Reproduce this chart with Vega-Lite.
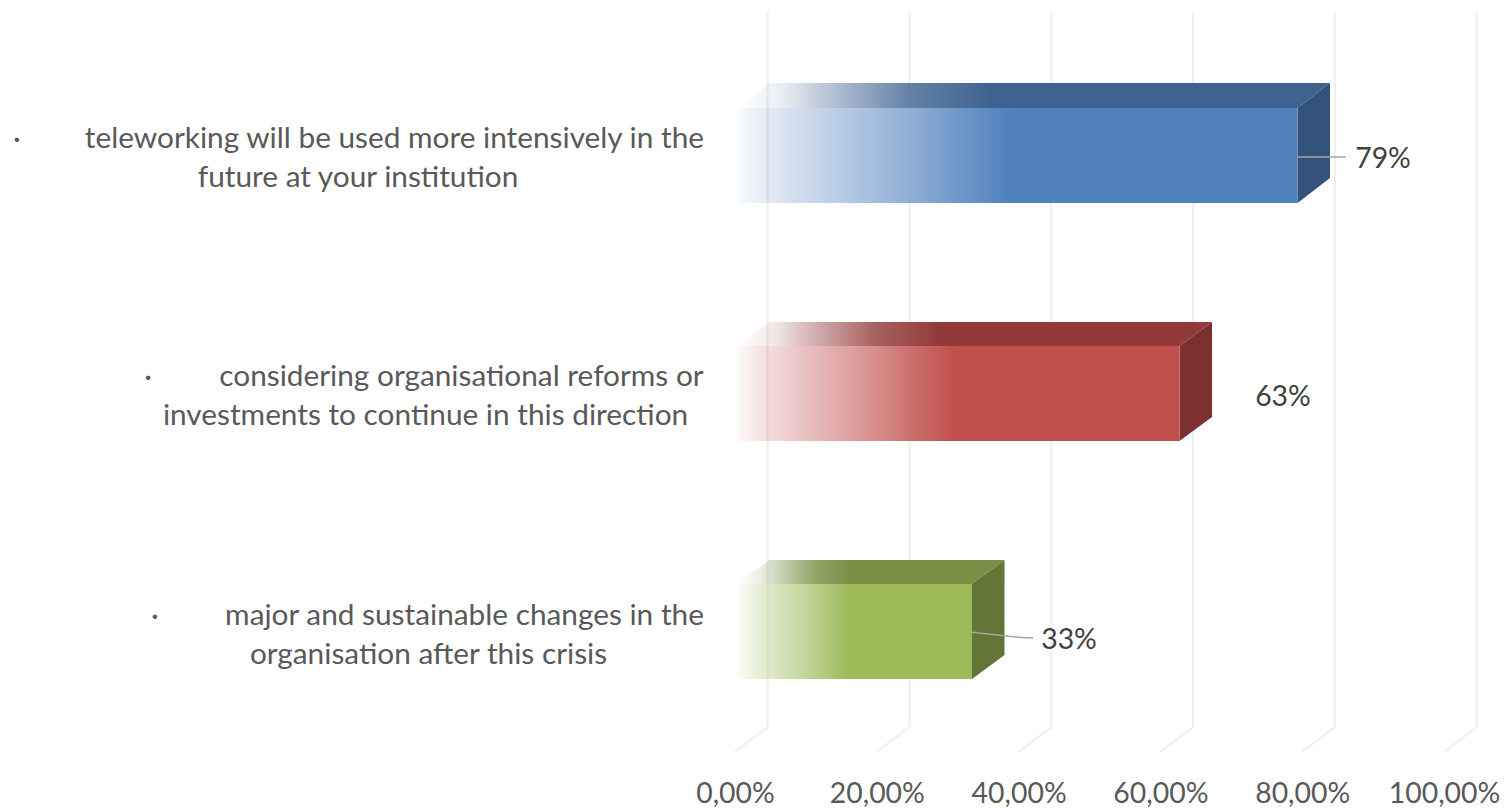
{
"$schema":"https://vega.github.io/schema/vega-lite/v6.json",
"width":1508,"height":780,"padding":{"left":0,"right":0,"top":0,"bottom":28},"autosize":{"type":"none"},
"background":"#ffffff",
"config":{"view":{"stroke":null},"locale":{"number":{"decimal":",","thousands":".","grouping":[3],"currency":["","€"]}}},
"datasets":{
"grid":[
{"x":0.0461,"x2":0.0461,"y":98.46,"y2":6.79},{"x":0.0461,"x2":0,"y":6.79,"y2":3.59},
{"x":0.2461,"x2":0.2461,"y":98.46,"y2":6.79},{"x":0.2461,"x2":0.2,"y":6.79,"y2":3.59},
{"x":0.4461,"x2":0.4461,"y":98.46,"y2":6.79},{"x":0.4461,"x2":0.4,"y":6.79,"y2":3.59},
{"x":0.6461,"x2":0.6461,"y":98.46,"y2":6.79},{"x":0.6461,"x2":0.6,"y":6.79,"y2":3.59},
{"x":0.8461,"x2":0.8461,"y":98.46,"y2":6.79},{"x":0.8461,"x2":0.8,"y":6.79,"y2":3.59},
{"x":1.0461,"x2":1.0461,"y":98.46,"y2":6.79},{"x":1.0461,"x2":1,"y":6.79,"y2":3.59}
],
"faces":[
{"series":"blue","face":"front","x":0.0028,"x2":0.7934,"y":73.97,"y2":86.15},
{"series":"blue","face":"top","x":0.0028,"x2":0.7934,"y":86.15},
{"series":"blue","face":"top","x":0.0486,"x2":0.8392,"y":89.36},
{"series":"blue","face":"side","x":0.7934,"y":73.97,"y2":86.15},
{"series":"blue","face":"side","x":0.8392,"y":77.18,"y2":89.36},
{"series":"red","face":"front","x":0.0028,"x2":0.627,"y":43.46,"y2":55.64},
{"series":"red","face":"top","x":0.0028,"x2":0.627,"y":55.64},
{"series":"red","face":"top","x":0.0486,"x2":0.6728,"y":58.72},
{"series":"red","face":"side","x":0.627,"y":43.46,"y2":55.64},
{"series":"red","face":"side","x":0.6728,"y":46.54,"y2":58.72},
{"series":"green","face":"front","x":0.0028,"x2":0.3343,"y":12.95,"y2":25.13},
{"series":"green","face":"top","x":0.0028,"x2":0.3343,"y":25.13},
{"series":"green","face":"top","x":0.0486,"x2":0.3801,"y":28.21},
{"series":"green","face":"side","x":0.3343,"y":12.95,"y2":25.13},
{"series":"green","face":"side","x":0.3801,"y":16.03,"y2":28.21}
],
"leaders":[
{"x":0.7934,"x2":0.8618,"y":79.87,"y2":79.87},
{"x":0.3343,"x2":0.4044,"y":18.94,"y2":18.26},
{"x":0.4044,"x2":0.4203,"y":18.26,"y2":18.2}
],
"values":[
{"x":0.914,"y":79.6,"label":"79%"},
{"x":0.7729,"y":49.1,"label":"63%"},
{"x":0.4711,"y":18.0,"label":"33%"}
],
"labels":[
{"x":-1.0127,"y":82.2,"label":"·"},
{"x":-0.4803,"y":82.2,"label":"teleworking will be used more intensively in the"},
{"x":-0.5317,"y":77.2,"label":"future at your institution"},
{"x":-0.8279,"y":51.68,"label":"·"},
{"x":-0.3858,"y":51.68,"label":"considering organisational reforms or"},
{"x":-0.4365,"y":46.68,"label":"investments to continue in this direction"},
{"x":-0.8181,"y":21.04,"label":"·"},
{"x":-0.3815,"y":21.04,"label":"major and sustainable changes in the"},
{"x":-0.4323,"y":16.04,"label":"organisation after this crisis"}
]
},
"encoding":{
"x":{"field":"x","type":"quantitative","scale":{"domain":[-1.03667,1.09027],"nice":false,"zero":false},
"axis":{"values":[0,0.2,0.4,0.6,0.8,1],"format":".2%","title":null,"grid":false,"domain":false,"ticks":false,"tickSize":0,"labelPadding":0,"labelFont":"Lato","labelFontSize":28.4,"labelColor":"#595959","labelOverlap":false,"labelFlush":false}},
"y":{"field":"y","type":"quantitative","scale":{"domain":[0,100],"nice":false,"zero":false},"axis":null}
},
"layer":[
{"data":{"name":"grid"},"mark":{"type":"rule","color":"#eeeeee","strokeWidth":2},"encoding":{"x2":{"field":"x2"},"y2":{"field":"y2"}}},

{"data":{"name":"faces"},"transform":[{"filter":"datum.series=='blue' && datum.face=='top'"}],
"mark":{"type":"area","orient":"horizontal","color":{"gradient":"linear","x1":0,"y1":0,"x2":1,"y2":0,"stops":[{"offset":0,"color":"rgba(62,98,144,0)"},{"offset":0.08,"color":"rgba(62,98,144,0.12)"},{"offset":0.14,"color":"rgba(62,98,144,0.33)"},{"offset":0.29,"color":"rgba(62,98,144,0.8)"},{"offset":0.43,"color":"rgba(62,98,144,1)"},{"offset":1,"color":"rgba(62,98,144,1)"}]}},"encoding":{"x2":{"field":"x2"}}},
{"data":{"name":"faces"},"transform":[{"filter":"datum.series=='blue' && datum.face=='side'"}],
"mark":{"type":"area","orient":"vertical","color":"#32527a"},"encoding":{"y2":{"field":"y2"}}},
{"data":{"name":"faces"},"transform":[{"filter":"datum.series=='blue' && datum.face=='front'"}],
"mark":{"type":"rect","color":{"gradient":"linear","x1":0,"y1":0,"x2":1,"y2":0,"stops":[{"offset":0,"color":"rgba(79,129,189,0.03)"},{"offset":0.055,"color":"rgba(79,129,189,0.16)"},{"offset":0.148,"color":"rgba(79,129,189,0.34)"},{"offset":0.31,"color":"rgba(79,129,189,0.64)"},{"offset":0.385,"color":"rgba(79,129,189,0.8)"},{"offset":0.49,"color":"rgba(79,129,189,1)"},{"offset":1,"color":"rgba(79,129,189,1)"}]}},"encoding":{"x2":{"field":"x2"},"y2":{"field":"y2"}}},

{"data":{"name":"faces"},"transform":[{"filter":"datum.series=='red' && datum.face=='top'"}],
"mark":{"type":"area","orient":"horizontal","color":{"gradient":"linear","x1":0,"y1":0,"x2":1,"y2":0,"stops":[{"offset":0,"color":"rgba(145,58,56,0)"},{"offset":0.08,"color":"rgba(145,58,56,0.12)"},{"offset":0.14,"color":"rgba(145,58,56,0.33)"},{"offset":0.29,"color":"rgba(145,58,56,0.8)"},{"offset":0.43,"color":"rgba(145,58,56,1)"},{"offset":1,"color":"rgba(145,58,56,1)"}]}},"encoding":{"x2":{"field":"x2"}}},
{"data":{"name":"faces"},"transform":[{"filter":"datum.series=='red' && datum.face=='side'"}],
"mark":{"type":"area","orient":"vertical","color":"#7b312f"},"encoding":{"y2":{"field":"y2"}}},
{"data":{"name":"faces"},"transform":[{"filter":"datum.series=='red' && datum.face=='front'"}],
"mark":{"type":"rect","color":{"gradient":"linear","x1":0,"y1":0,"x2":1,"y2":0,"stops":[{"offset":0,"color":"rgba(192,80,77,0.03)"},{"offset":0.055,"color":"rgba(192,80,77,0.16)"},{"offset":0.148,"color":"rgba(192,80,77,0.34)"},{"offset":0.31,"color":"rgba(192,80,77,0.64)"},{"offset":0.385,"color":"rgba(192,80,77,0.8)"},{"offset":0.49,"color":"rgba(192,80,77,1)"},{"offset":1,"color":"rgba(192,80,77,1)"}]}},"encoding":{"x2":{"field":"x2"},"y2":{"field":"y2"}}},

{"data":{"name":"faces"},"transform":[{"filter":"datum.series=='green' && datum.face=='top'"}],
"mark":{"type":"area","orient":"horizontal","color":{"gradient":"linear","x1":0,"y1":0,"x2":1,"y2":0,"stops":[{"offset":0,"color":"rgba(120,143,69,0)"},{"offset":0.08,"color":"rgba(120,143,69,0.12)"},{"offset":0.14,"color":"rgba(120,143,69,0.33)"},{"offset":0.29,"color":"rgba(120,143,69,0.8)"},{"offset":0.43,"color":"rgba(120,143,69,1)"},{"offset":1,"color":"rgba(120,143,69,1)"}]}},"encoding":{"x2":{"field":"x2"}}},
{"data":{"name":"faces"},"transform":[{"filter":"datum.series=='green' && datum.face=='side'"}],
"mark":{"type":"area","orient":"vertical","color":"#637537"},"encoding":{"y2":{"field":"y2"}}},
{"data":{"name":"faces"},"transform":[{"filter":"datum.series=='green' && datum.face=='front'"}],
"mark":{"type":"rect","color":{"gradient":"linear","x1":0,"y1":0,"x2":1,"y2":0,"stops":[{"offset":0,"color":"rgba(155,187,89,0.03)"},{"offset":0.055,"color":"rgba(155,187,89,0.16)"},{"offset":0.148,"color":"rgba(155,187,89,0.34)"},{"offset":0.31,"color":"rgba(155,187,89,0.64)"},{"offset":0.385,"color":"rgba(155,187,89,0.8)"},{"offset":0.47,"color":"rgba(155,187,89,1)"},{"offset":1,"color":"rgba(155,187,89,1)"}]}},"encoding":{"x2":{"field":"x2"},"y2":{"field":"y2"}}},

{"data":{"name":"leaders"},"mark":{"type":"rule","color":"#a6a6a6","strokeWidth":1.5},"encoding":{"x2":{"field":"x2"},"y2":{"field":"y2"}}},
{"data":{"name":"values"},"mark":{"type":"text","font":"Lato","fontSize":28.4,"color":"#404040","align":"center","baseline":"middle"},"encoding":{"text":{"field":"label"}}},
{"data":{"name":"labels"},"mark":{"type":"text","font":"Lato","fontSize":29.8,"color":"#595959","align":"center","baseline":"middle"},"encoding":{"text":{"field":"label"}}}
]
}
